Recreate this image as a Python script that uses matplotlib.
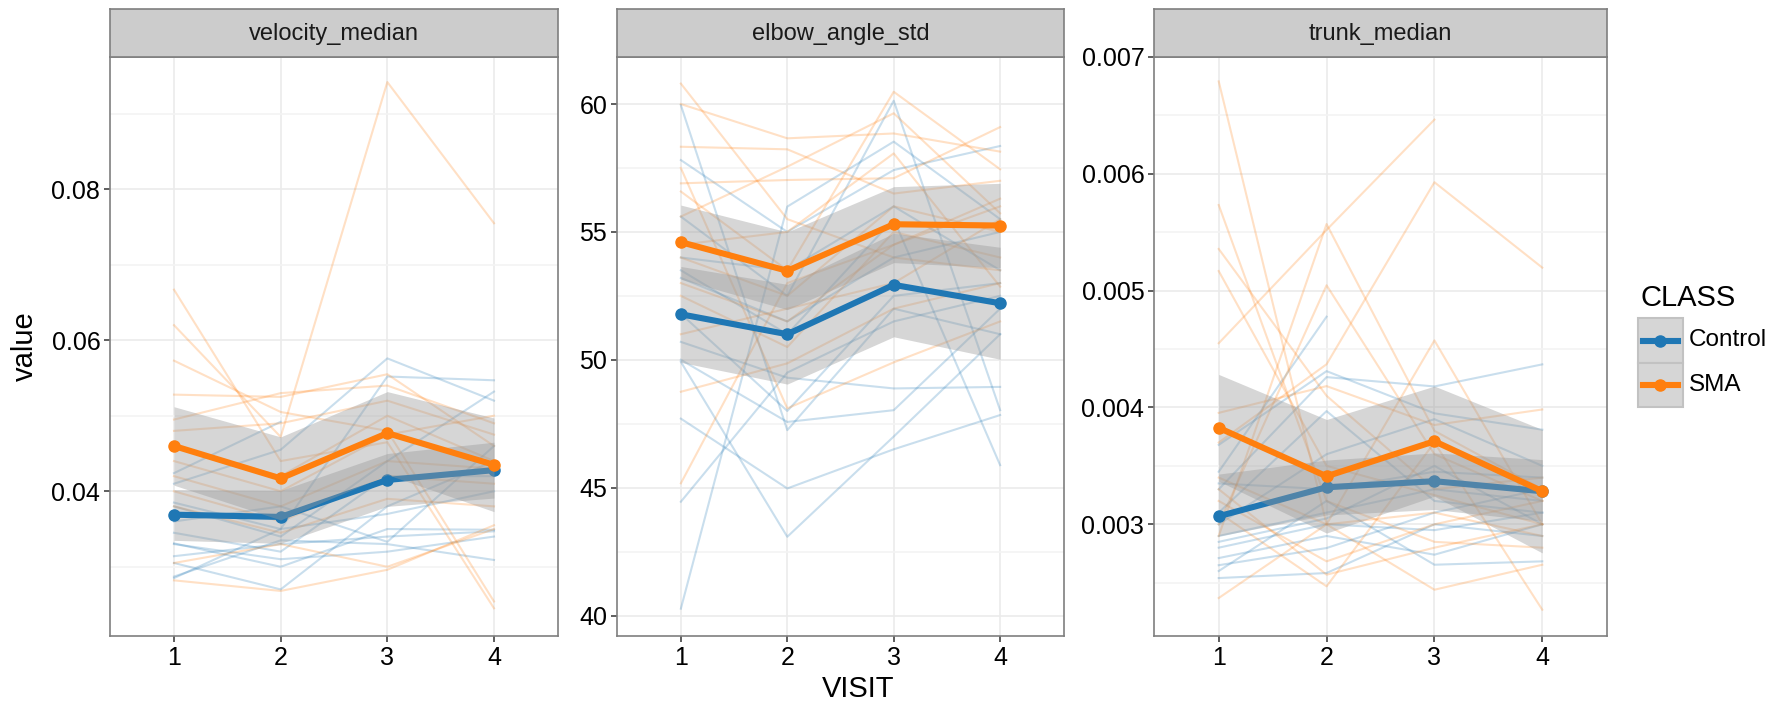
import numpy as np
import matplotlib
matplotlib.use("Agg")
import matplotlib.pyplot as plt
from matplotlib.patches import Rectangle
from matplotlib.lines import Line2D

plt.rcParams['font.family'] = ['Liberation Sans', 'DejaVu Sans']

nan = np.nan
visits = [1, 2, 3, 4]
panels = ["velocity_median", "elbow_angle_std", "trunk_median"]
classes = ["Control", "SMA"]
colors = {"Control": "#1f77b4", "SMA": "#ff7f0e"}

# ---- individual subjects, values at visits 1..4 ----
velocity_control = [
    [0.0424, 0.0492, nan, nan],
    [0.0410, 0.0455, 0.0576, 0.0520],
    [0.0385, 0.0350, 0.0552, 0.0547],
    [0.0380, 0.0340, 0.0440, 0.0532],
    [0.0360, 0.0380, 0.0333, 0.0460],
    [0.0345, 0.0320, 0.0420, 0.0420],
    [0.0331, 0.0300, 0.0350, 0.0349],
    [0.0314, 0.0330, 0.0340, 0.0347],
    [0.0305, 0.0270, 0.0380, 0.0440],
    [0.0287, 0.0335, 0.0330, 0.0309],
    [0.0285, 0.0350, 0.0370, 0.0400],
    [0.0330, 0.0310, 0.0320, 0.0340],
]
velocity_sma = [
    [0.0667, 0.0440, 0.0465, 0.0245],
    [0.0620, 0.0472, 0.0942, 0.0755],
    [0.0573, 0.0505, 0.0480, 0.0254],
    [0.0528, 0.0525, 0.0555, 0.0460],
    [0.0495, 0.0530, 0.0540, 0.0490],
    [0.0480, 0.0490, 0.0520, 0.0475],
    [0.0460, 0.0420, 0.0500, 0.0440],
    [0.0440, 0.0400, 0.0475, 0.0500],
    [0.0420, 0.0380, 0.0440, 0.0430],
    [0.0400, 0.0360, 0.0420, 0.0410],
    [0.0380, 0.0345, 0.0390, 0.0380],
    [0.0305, 0.0330, 0.0300, 0.0350],
    [0.0282, 0.0268, 0.0296, 0.0355],
]
elbow_control = [
    [59.96, 47.25, 52.0, 51.0],
    [57.81, 55.0, 57.42, 58.36],
    [55.6, 52.5, 60.13, 48.03],
    [54.0, 53.5, 56.0, 53.5],
    [53.2, 51.5, 54.0, 55.0],
    [53.5, 51.0, 55.5, 45.88],
    [51.8, 48.0, 52.5, 53.0],
    [50.7, 49.3, 48.88, 48.94],
    [49.92, 43.08, 47.0, 51.0],
    [47.7, 44.97, 46.5, 47.84],
    [44.45, 49.5, 51.5, 52.5],
    [40.27, 55.99, 58.53, 55.5],
    [50.0, 47.57, 48.03, 52.0],
]
elbow_sma = [
    [60.8, 55.5, 54.0, 53.5],
    [60.0, 58.66, 58.85, 58.14],
    [58.33, 58.23, 56.5, 57.0],
    [56.9, 57.03, 57.1, 59.1],
    [56.58, 53.5, 60.48, 57.45],
    [55.6, 57.55, 59.64, 55.73],
    [54.5, 55.0, 58.07, 52.86],
    [54.0, 52.5, 56.0, 55.0],
    [53.0, 51.5, 54.5, 56.3],
    [52.5, 50.5, 55.0, 54.0],
    [51.0, 52.0, 53.0, 55.5],
    [48.75, 49.86, 52.0, 53.0],
    [45.17, 53.0, 54.5, 56.0],
    [57.5, 48.1, 49.9, 51.5],
]
trunk_control = [
    [0.00345, 0.004777, nan, nan],
    [0.00368, 0.004311, 0.00395, 0.00381],
    [0.00330, 0.00426, 0.00418, 0.004369],
    [0.00310, 0.003969, 0.00320, 0.00310],
    [0.00300, 0.00360, 0.00390, 0.00350],
    [0.00335, 0.00330, 0.00345, 0.00340],
    [0.00290, 0.00310, 0.00330, 0.00320],
    [0.00280, 0.00300, 0.00295, 0.00310],
    [0.002711, 0.00290, 0.00274, 0.00300],
    [0.00265, 0.002797, 0.00310, 0.00330],
    [0.00260, 0.00320, 0.002654, 0.002683],
    [0.00254, 0.002583, 0.00300, 0.00290],
    [0.00285, 0.00305, 0.00350, 0.00300],
]
trunk_sma = [
    [0.006791, 0.00300, 0.00310, 0.00290],
    [0.005733, 0.00320, 0.00285, 0.00280],
    [0.005357, 0.00410, 0.00330, 0.00340],
    [0.005168, 0.00350, 0.00325, 0.00300],
    [0.00455, 0.00552, 0.006464, nan],
    [0.00290, 0.00557, 0.00380, 0.00330],
    [0.00300, 0.005046, 0.00360, 0.00320],
    [0.00370, 0.00437, 0.005928, 0.005197],
    [0.003954, 0.004183, 0.00385, 0.003983],
    [0.00340, 0.00300, 0.004574, 0.00300],
    [0.00320, 0.002683, 0.00300, 0.00320],
    [0.00310, 0.002469, 0.00370, 0.002269],
    [0.002369, 0.00300, 0.00244, 0.002654],
    [0.00330, 0.002569, 0.00280, 0.00300],
]

# ---- group means and confidence bands ----
velocity_mean = {"Control": [0.0369, 0.0366, 0.0415, 0.0428],
                 "SMA": [0.0460, 0.0417, 0.0477, 0.0435]}
velocity_lo = {"Control": [0.0335, 0.0331, 0.0380, 0.0391],
               "SMA": [0.0408, 0.0362, 0.0422, 0.0373]}
velocity_hi = {"Control": [0.0402, 0.0401, 0.0450, 0.0465],
               "SMA": [0.0512, 0.0472, 0.0532, 0.0497]}
elbow_mean = {"Control": [51.78, 51.0, 52.93, 52.21],
              "SMA": [54.60, 53.48, 55.30, 55.25]}
elbow_lo = {"Control": [49.9, 49.05, 50.9, 50.02],
            "SMA": [53.15, 51.96, 53.8, 53.6]}
elbow_hi = {"Control": [53.65, 52.95, 54.95, 54.4],
            "SMA": [56.05, 55.0, 56.77, 56.9]}
trunk_mean = {"Control": [0.003069, 0.003317, 0.003369, 0.003283],
              "SMA": [0.003826, 0.003411, 0.003711, 0.003283]}
trunk_lo = {"Control": [0.00290, 0.00308, 0.003127, 0.003026],
            "SMA": [0.003369, 0.002925, 0.00324, 0.002755]}
trunk_hi = {"Control": [0.00343, 0.00355, 0.003611, 0.003554],
            "SMA": [0.004283, 0.003897, 0.004183, 0.003811]}

subjects = {
    "velocity_median": {"Control": velocity_control, "SMA": velocity_sma},
    "elbow_angle_std": {"Control": elbow_control, "SMA": elbow_sma},
    "trunk_median": {"Control": trunk_control, "SMA": trunk_sma},
}
summary = {
    "velocity_median": (velocity_mean, velocity_lo, velocity_hi),
    "elbow_angle_std": (elbow_mean, elbow_lo, elbow_hi),
    "trunk_median": (trunk_mean, trunk_lo, trunk_hi),
}
ylims = {
    "velocity_median": (0.02083, 0.09752),
    "elbow_angle_std": (39.20, 61.84),
    "trunk_median": (0.002044, 0.006976),
}
yticks = {
    "velocity_median": ([0.04, 0.06, 0.08], ["0.04", "0.06", "0.08"],
                        [0.03, 0.05, 0.07, 0.09]),
    "elbow_angle_std": ([40, 45, 50, 55, 60], ["40", "45", "50", "55", "60"],
                        [42.5, 47.5, 52.5, 57.5]),
    "trunk_median": ([0.003, 0.004, 0.005, 0.006, 0.007],
                     ["0.003", "0.004", "0.005", "0.006", "0.007"],
                     [0.0025, 0.0035, 0.0045, 0.0055, 0.0065]),
}

W, H = 1774, 706
fig = plt.figure(figsize=(W / 100, H / 100), dpi=100)

panel_x = [(110, 558), (617, 1064), (1154, 1607)]
top, bottom, strip_top = 57, 636, 9

for name, (x0, x1) in zip(panels, panel_x):
    ax = fig.add_axes([x0 / W, 1 - bottom / H, (x1 - x0) / W, (bottom - top) / H])
    sax = fig.add_axes([x0 / W, 1 - top / H, (x1 - x0) / W, (top - strip_top) / H])

    # individual subjects
    for cls in classes:
        for row in subjects[name][cls]:
            ax.plot(visits, row, color=colors[cls], alpha=0.24, lw=1.5, zorder=2)

    mean, lo, hi = summary[name]
    z = 3
    for cls in classes:
        ax.fill_between(visits, lo[cls], hi[cls], color="#999999", alpha=0.4,
                        lw=0, zorder=z)
        ax.plot(visits, mean[cls], color=colors[cls], lw=4.4, marker="o",
                ms=8, zorder=z + 1)
        z += 2

    ax.set_xlim(0.4, 4.6)
    ax.set_ylim(*ylims[name])
    ax.set_xticks(visits)
    ax.set_xticklabels([str(v) for v in visits])
    major, labels, minor = yticks[name]
    ax.set_yticks(major)
    ax.set_yticklabels(labels)
    ax.set_yticks(minor, minor=True)
    ax.tick_params(axis="y", which="minor", length=0)
    ax.tick_params(which="major", length=4, width=1.1, color="#333333",
                   labelsize=18, labelcolor="black", pad=3)
    ax.grid(True, which="major", color="#ebebeb", lw=1.2, zorder=0)
    ax.grid(True, which="minor", axis="y", color="#f4f4f4", lw=1.2, zorder=0)
    ax.set_axisbelow(True)
    for sp in ax.spines.values():
        sp.set_color("#7f7f7f")
        sp.set_linewidth(1.2)

    sax.set_facecolor("#cccccc")
    sax.set_xticks([])
    sax.set_yticks([])
    for sp in sax.spines.values():
        sp.set_color("#7f7f7f")
        sp.set_linewidth(1.2)
    sax.text(0.5, 0.47, name, ha="center", va="center", fontsize=17,
             color="#1a1a1a", transform=sax.transAxes)

fig.text(25 / W, 1 - 346 / H, "value", rotation=90, ha="center", va="center",
         fontsize=21)
fig.text(858 / W, 1 - 689 / H, "VISIT", ha="center", va="center", fontsize=21)

# legend
fig.text(1640 / W, 1 - 298 / H, "CLASS", ha="left", va="center", fontsize=21)
key_y = [(318, 363), (363, 407)]
for cls, (ky0, ky1) in zip(classes, key_y):
    fig.add_artist(Rectangle((1638 / W, 1 - ky1 / H), 45 / W, (ky1 - ky0) / H,
                             transform=fig.transFigure, facecolor="#d6d6d6",
                             edgecolor="#c2c2c2", lw=1.5))
    cy = 1 - (ky0 + ky1) / 2 / H
    fig.add_artist(Line2D([1643 / W, 1678 / W], [cy, cy], transform=fig.transFigure,
                          color=colors[cls], lw=4.4))
    fig.add_artist(Line2D([1660.5 / W], [cy], transform=fig.transFigure,
                          color=colors[cls], marker="o", ms=8))
    fig.text(1689 / W, cy, cls, ha="left", va="center", fontsize=17.5)

fig.savefig("out.png", dpi=100)
